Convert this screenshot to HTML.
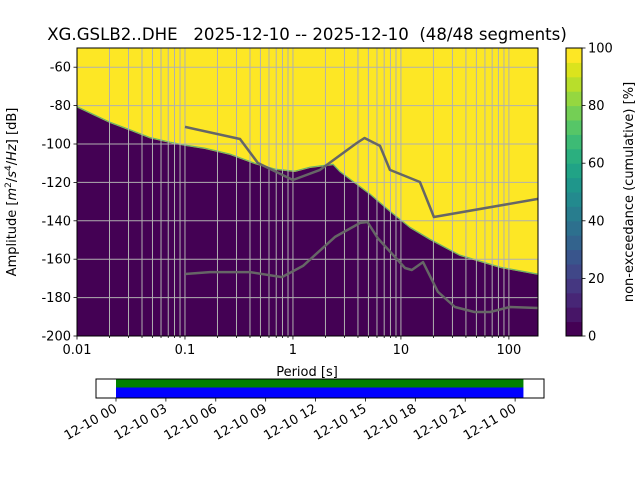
<!DOCTYPE html>
<html><head><meta charset="utf-8"><style>
body{margin:0;background:#fff;}
svg{display:block;font-family:"DejaVu Sans","Liberation Sans",sans-serif;}
</style></head><body>
<svg id="c" width="640" height="480" xmlns="http://www.w3.org/2000/svg">
<rect width="640" height="480" fill="#fff"/>
<text x="307" y="40" text-anchor="middle" font-size="16.6" style="white-space:pre" xml:space="preserve">XG.GSLB2..DHE   2025-12-10 -- 2025-12-10  (48/48 segments)</text>
<g id="plot"></g>
</svg>
<script>
// boundary between 0% (below) and 100% (above) of the PPSD histogram
const boundaryPeriods=[0.01,0.02,0.031,0.047,0.073,0.1,0.153,0.26,0.44,0.68,1.04,1.44,2.35,2.7,3.4,5.2,7.9,12.1,18.5,35,83,186];
const boundaryDb=[-81,-89,-93,-97,-99.5,-101,-102.6,-105.7,-110.4,-113.5,-114.6,-112.5,-111,-114.6,-118.8,-126.6,-135.4,-143.8,-150,-158.3,-164.6,-168.2];
const nhnmPeriods=[0.1,0.323,0.474,1,1.78,3.9,4.6,6.4,7.9,15,20.2,186];
const nhnmDb=[-91.1,-97.4,-109.9,-118.75,-113.5,-99.5,-96.9,-101,-113.5,-119.8,-138,-128.6];
const nlnmPeriods=[0.1,0.17,0.4,0.79,1.24,2.45,4.2,4.9,6.1,10.9,12.6,16,22,31.6,48,67,102,186];
const nlnmDb=[-167.7,-166.7,-166.7,-169.3,-163.5,-148.4,-141.1,-140.6,-149,-164.6,-165.6,-161.5,-177,-184.9,-187.5,-187.5,-184.9,-185.4];
const yTicks=[-60,-80,-100,-120,-140,-160,-180,-200];
const xTicks=[0.01,0.1,1,10,100];
const xTickLabels=["0.01","0.1","1","10","100"];
const cbTicks=[0,20,40,60,80,100];
const timeTickLabels=["12-10 00","12-10 03","12-10 06","12-10 09","12-10 12","12-10 15","12-10 18","12-10 21","12-11 00"];
const coverageStartH=0, coverageEndH=24.5;

const NS="http://www.w3.org/2000/svg";
const g=document.getElementById('plot');
const L=77,R=538,T=48,B=336;
const xmin=Math.log10(0.01), xmax=Math.log10(186), ymin=-200, ymax=-50;
const X=p=>L+(Math.log10(p)-xmin)/(xmax-xmin)*(R-L);
const Y=d=>B-(d-ymin)/(ymax-ymin)*(B-T);
function mk(tag,attrs,parent){const e=document.createElementNS(NS,tag);for(const k in attrs)e.setAttribute(k,attrs[k]);(parent||g).appendChild(e);return e;}

let e=mk('rect',{x:L,y:T,width:R-L,height:B-T,fill:'#fde725'});


let d='M'+L+','+B;
for(let i=0;i<boundaryPeriods.length;i++){d+=' L'+X(boundaryPeriods[i]).toFixed(1)+','+Y(boundaryDb[i]).toFixed(1);}
d+=' L'+R+','+B+' Z';
e=mk('path',{d:d,fill:'#440154'});


let b='';
for(let i=0;i<boundaryPeriods.length;i++){b+=(i?' L':'M')+X(boundaryPeriods[i]).toFixed(1)+','+(Y(boundaryDb[i])-0.8).toFixed(1);}
e=mk('path',{d:b,fill:'none',stroke:'#2a9d8a',"stroke-width":1.2,opacity:0.7});


for(let dec=-2;dec<=2;dec++){for(let m=1;m<=9;m++){const p=m*Math.pow(10,dec);if(p>186)break;const x=X(p);
 e=mk('line',{x1:x,x2:x,y1:T,y2:B,stroke:'#b0b0b0',"stroke-width":1});
 
 
 e=mk('line',{x1:x,x2:x,y1:B,y2:B+(m==1?3.5:2),stroke:'#000',"stroke-width":0.8});
 
 }}
yTicks.forEach(v=>{const y=Y(v);
 e=mk('line',{x1:L,x2:R,y1:y,y2:y,stroke:'#b0b0b0',"stroke-width":1});
 
 
 e=mk('line',{x1:L-3.5,x2:L,y1:y,y2:y,stroke:'#000',"stroke-width":0.8});
 
 
 e=mk('text',{x:L-6,y:y+4.5,"text-anchor":"end","font-size":13});e.textContent=v;
 
 });
xTicks.forEach((p,i)=>{e=mk('text',{x:X(p),y:B+18,"text-anchor":"middle","font-size":13});e.textContent=xTickLabels[i];
 
 });
function line(ps,ds,name){let s='';ps.forEach((p,i)=>{s+=(i?' L':'M')+X(p).toFixed(1)+','+Y(ds[i]).toFixed(1);});
 const l=mk('path',{d:s,fill:'none',stroke:'#666',"stroke-width":2.5,"stroke-linejoin":"round"});
 
 }
line(nhnmPeriods,nhnmDb,'nhnm-line');
line(nlnmPeriods,nlnmDb,'nlnm-line');
e=mk('rect',{x:L,y:T,width:R-L,height:B-T,fill:'none',stroke:'#000',"stroke-width":1});


e=mk('text',{x:307,y:376,"text-anchor":"middle","font-size":13});e.textContent='Period [s]';


e=mk('text',{x:16,y:192,"text-anchor":"middle","font-size":13,transform:'rotate(-90 16 192)'});
e.innerHTML='Amplitude [<tspan font-style="italic">m</tspan><tspan baseline-shift="super" font-size="9">2</tspan>/<tspan font-style="italic">s</tspan><tspan baseline-shift="super" font-size="9">4</tspan>/<tspan font-style="italic">Hz</tspan>] [dB]';


const vir=['#440154','#481a6c','#472f7d','#414487','#39568c','#31688e','#2a788e','#23888e','#1f988b','#22a884','#35b779','#54c568','#7ad151','#a5db36','#d2e21b','#fde725'];
const CL=566,CR=582,CT=48,CB=336;const n=20;
function lerp(a,b,t){const pa=parseInt(a.slice(1),16),pb=parseInt(b.slice(1),16);let r='#';for(let s=16;s>=0;s-=8){const c=Math.round(((pa>>s)&255)*(1-t)+((pb>>s)&255)*t);r+=c.toString(16).padStart(2,'0');}return r;}
for(let i=0;i<n;i++){const t=i/(n-1)*(vir.length-1);const k=Math.min(Math.floor(t),vir.length-2);const c=lerp(vir[k],vir[k+1],t-k);
 e=mk('rect',{x:CL,y:CB-(i+1)*(CB-CT)/n,width:CR-CL,height:(CB-CT)/n+0.5,fill:c});
 
 }
e=mk('rect',{x:CL,y:CT,width:CR-CL,height:CB-CT,fill:'none',stroke:'#000',"stroke-width":1});


cbTicks.forEach(v=>{const y=CB-v/100*(CB-CT);
 e=mk('line',{x1:CR,x2:CR+3.5,y1:y,y2:y,stroke:'#000',"stroke-width":0.8});
 
 
 e=mk('text',{x:CR+6,y:y+4.5,"font-size":13});e.textContent=v;
 
 });
e=mk('text',{x:633,y:192,"text-anchor":"middle","font-size":13,transform:'rotate(-90 633 192)'});e.textContent='non-exceedance (cumulative) [%]';


const TL=116,pxH=16.63;const TX=h=>TL+h*pxH;
e=mk('rect',{x:96,y:379,width:448,height:19,fill:'#fff',stroke:'#000',"stroke-width":1});


e=mk('rect',{x:TX(coverageStartH),y:379.5,width:TX(coverageEndH)-TX(coverageStartH),height:8,fill:'#008000'});


e=mk('rect',{x:TX(coverageStartH),y:387.5,width:TX(coverageEndH)-TX(coverageStartH),height:10,fill:'#0000ff'});


e=mk('rect',{x:96,y:379,width:448,height:19,fill:'none',stroke:'#000',"stroke-width":1});


timeTickLabels.forEach((s,i)=>{const x=TX(i*3);
 e=mk('line',{x1:x,x2:x,y1:398,y2:401.5,stroke:'#000',"stroke-width":0.8});
 
 
 e=mk('text',{x:x+2,y:411,"text-anchor":"end","font-size":13,transform:'rotate(-30 '+(x+2)+' 411)'});e.textContent=s;
 
 });
</script>
</body></html>
